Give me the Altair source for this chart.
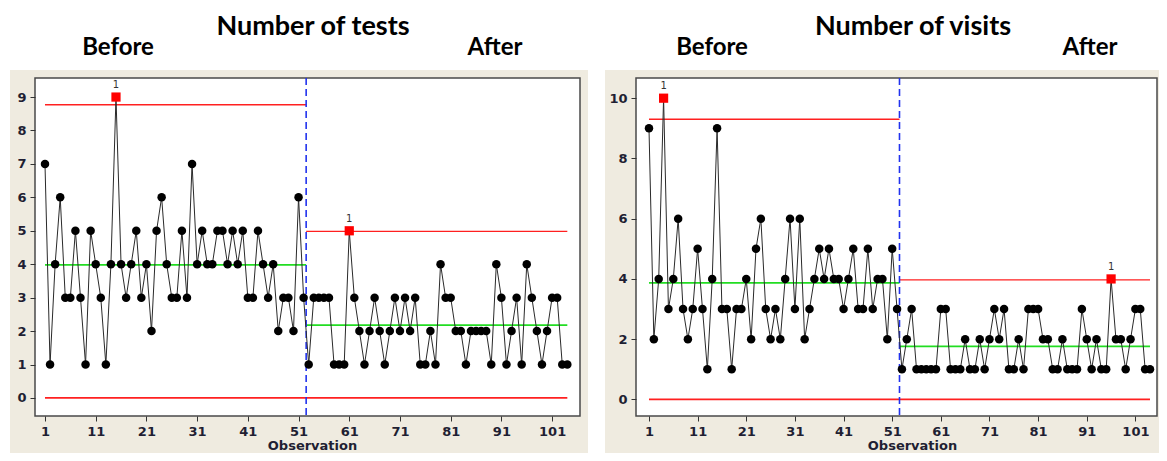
import altair as alt
import pandas as pd

# ---------------- data ----------------
OBS = list(range(1, 105))
TESTS = [7, 1, 4, 6, 3, 3, 5, 3, 1, 5, 4, 3, 1, 4, 9, 4, 3, 4, 5, 3,
         4, 2, 5, 6, 4, 3, 3, 5, 3, 7, 4, 5, 4, 4, 5, 5, 4, 5, 4, 5,
         3, 3, 5, 4, 3, 4, 2, 3, 3, 2, 6, 3,
         1, 3, 3, 3, 3, 1, 1, 1, 5, 3, 2, 1, 2, 3, 2, 1, 2, 3, 2, 3,
         2, 3, 1, 1, 2, 1, 4, 3, 3, 2, 2, 1, 2, 2, 2, 2, 1, 4, 3, 1,
         2, 3, 1, 4, 3, 2, 1, 2, 3, 3, 1, 1]
VISITS = [9, 2, 4, 10, 3, 4, 6, 3, 2, 3, 5, 3, 1, 4, 9, 3, 3, 1, 3, 3,
          4, 2, 5, 6, 3, 2, 3, 2, 4, 6, 3, 6, 2, 3, 4, 5, 4, 5, 4, 4,
          3, 4, 5, 3, 3, 5, 3, 4, 4, 2, 5, 3,
          1, 2, 3, 1, 1, 1, 1, 1, 3, 3, 1, 1, 1, 2, 1, 1, 2, 1, 2, 3,
          2, 3, 1, 1, 2, 1, 3, 3, 3, 2, 2, 1, 1, 2, 1, 1, 1, 3, 2, 1,
          2, 1, 1, 4, 2, 2, 1, 2, 3, 3, 1, 1]
CHANGE_AT = 52.5
TESTS_CL = [3.98, 2.18]
TESTS_UCL = [8.77, 4.98]
VISITS_CL = [3.87, 1.76]
VISITS_UCL = [9.30, 3.97]
LCL = 0
X_TICKS = [1, 11, 21, 31, 41, 51, 61, 71, 81, 91, 101]
TESTS_Y_TICKS = [0, 1, 2, 3, 4, 5, 6, 7, 8, 9]
VISITS_Y_TICKS = [0, 2, 4, 6, 8, 10]
TITLES = ["Number of tests", "Number of visits"]
STAGES = ["Before", "After"]

BEIGE = "#EFEBE0"
H = 338


def panel(values, cl, ucl, title, xdom, ydom, yticks, w, wx0, wx1, gap, tx, bfx, afx, ttx):
    ucl_pt = [ucl[0] if o <= CHANGE_AT else ucl[1] for o in OBS]
    df = pd.DataFrame({"obs": OBS, "value": values, "ucl": ucl_pt})
    df["flag"] = df["value"] > df["ucl"]
    red = pd.DataFrame({"x1": [1, CHANGE_AT], "x2": [CHANGE_AT, OBS[-1]], "y": ucl})
    lcl = pd.DataFrame({"x1": [1], "x2": [OBS[-1]], "y": [LCL]})
    green = pd.DataFrame({"x1": [1, CHANGE_AT], "x2": [CHANGE_AT, OBS[-1]], "y": cl})
    one = pd.DataFrame({"k": [0]})

    xs = alt.Scale(domain=xdom, nice=False, zero=False)
    ys = alt.Scale(domain=ydom, nice=False, zero=False)
    xax = alt.Axis(values=X_TICKS, title="Observation", zindex=1, titleX=ttx)
    yax = alt.Axis(values=yticks, title=None, zindex=1)

    def X(f):
        return alt.X(f, type="quantitative", scale=xs, axis=xax)

    def Y(f):
        return alt.Y(f, type="quantitative", scale=ys, axis=yax)

    # white page areas around the beige panel (top band, side strips)
    topw = alt.Chart(one).mark_rect(fill="white").encode(
        x=alt.value(wx0), x2=alt.value(wx1), y=alt.value(-70), y2=alt.value(-8))
    layers = [topw]
    for g0, g1 in gap:
        layers.append(alt.Chart(one).mark_rect(fill="white").encode(
            x=alt.value(g0), x2=alt.value(g1), y=alt.value(-8), y2=alt.value(H + 37)))
    frame = alt.Chart(one).mark_rect(fill="white", stroke="#4a4a4a", strokeWidth=1.5).encode(
        x=alt.value(0), x2=alt.value(w), y=alt.value(0), y2=alt.value(H))

    ucl_l = alt.Chart(red).mark_rule(color="#FF2020", strokeWidth=1.3).encode(
        x=X("x1"), x2="x2", y=Y("y"))
    lcl_l = alt.Chart(lcl).mark_rule(color="#FF2020", strokeWidth=1.8).encode(
        x=X("x1"), x2="x2", y=Y("y"))
    cl_l = alt.Chart(green).mark_rule(color="#22DD22", strokeWidth=1.7).encode(
        x=X("x1"), x2="x2", y=Y("y"))
    dash = alt.Chart(pd.DataFrame({"x": [CHANGE_AT]})).mark_rule(
        color="#2233EE", strokeDash=[7, 4], strokeWidth=1.6).encode(x=X("x"))
    line = alt.Chart(df).mark_line(color="#2a2a2a", strokeWidth=1).encode(
        x=X("obs"), y=Y("value"))
    pts = alt.Chart(df).transform_filter("!datum.flag").mark_point(
        filled=True, shape="circle", size=72, color="black", opacity=1).encode(
        x=X("obs"), y=Y("value"))
    sq = alt.Chart(df).transform_filter("datum.flag").mark_point(
        filled=True, shape="square", size=85, color="#FF0000", opacity=1).encode(
        x=X("obs"), y=Y("value"))
    lab = alt.Chart(df).transform_filter("datum.flag").mark_text(
        text="1", dy=-12, fontSize=10, font="DejaVu Sans", color="#333").encode(
        x=X("obs"), y=Y("value"))

    t1 = alt.Chart(one).mark_text(text=title, font="Lato", fontWeight="bold",
                                  fontSize=27, color="black").encode(
        x=alt.value(tx), y=alt.value(-51))
    t2 = alt.Chart(one).mark_text(text=STAGES[0], font="Lato", fontWeight="bold",
                                  fontSize=24, color="black").encode(
        x=alt.value(bfx), y=alt.value(-30))
    t3 = alt.Chart(one).mark_text(text=STAGES[1], font="Lato", fontWeight="bold",
                                  fontSize=24, color="black").encode(
        x=alt.value(afx), y=alt.value(-30))

    layers += [frame, ucl_l, lcl_l, cl_l, dash, line, pts, sq, lab, t1, t2, t3]
    return alt.layer(*layers).properties(width=w, height=H)


left = panel(TESTS, TESTS_CL, TESTS_UCL, TITLES[0], [-0.97, 106.5], [-0.54, 9.57],
             TESTS_Y_TICKS, 545, -27, 570, [(-27, -25), (553, 570)], 278, 83, 460, 277)
right = panel(VISITS, VISITS_CL, VISITS_UCL, TITLES[1], [-1.67, 105.44], [-0.55, 10.67],
              VISITS_Y_TICKS, 521, -31, 523, [], 277, 76, 454, 276)

chart = alt.hconcat(left, right, spacing=0).properties(
    padding={"left": 0, "top": 0, "right": 0, "bottom": 0},
    background=BEIGE
).configure_axis(
    labelFont="DejaVu Sans", labelFontSize=13, labelFontWeight="bold",
    labelColor="#1f1f33", tickColor="#333", tickSize=5, tickWidth=1,
    domain=False, grid=False, zindex=1,
    titleFont="DejaVu Sans", titleFontSize=13, titleFontWeight="bold",
    titleColor="#1f1f33", labelPadding=4, titlePadding=1
).configure_view(stroke=None)

chart.save("out.html", embed_options={"renderer": "svg", "actions": False})
